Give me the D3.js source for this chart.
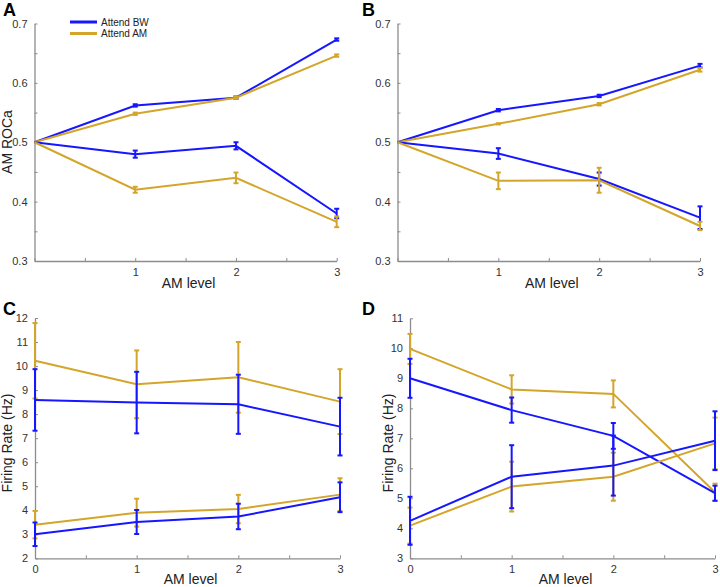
<!DOCTYPE html>
<html>
<head>
<meta charset="utf-8">
<script src="https://cdn.jsdelivr.net/npm/d3@7"></script>
<style>
  html, body { margin: 0; padding: 0; background: #fff; }
  text { font-family: Arial, "Liberation Sans", sans-serif; }
</style>
</head>
<body>
<svg id="chart" width="720" height="587"></svg>
<script>
// ---------- DATA ----------
const levels = [0, 1, 2, 3];
const seriesNames = ["Attend BW", "Attend AM"];
const panelLetters = ["A", "B", "C", "D"];
const rocTicks = [0.3, 0.4, 0.5, 0.6, 0.7];
const rateTicksC = [2, 3, 4, 5, 6, 7, 8, 9, 10, 11, 12];
const rateTicksD = [3, 4, 5, 6, 7, 8, 9, 10, 11];

// Panel A (AM ROCa)
const aBWUp = [0.5, 0.562, 0.575, 0.673];
const aBWUpErr = [0, 0.002, 0.002, 0.002];
const aAMUp = [0.5, 0.548, 0.575, 0.646];
const aAMUpErr = [0, 0.002, 0.002, 0.002];
const aBWDown = [0.5, 0.480, 0.494, 0.380];
const aBWDownErr = [0, 0.006, 0.006, 0.008];
const aAMDown = [0.5, 0.420, 0.440, 0.366];
const aAMDownErr = [0, 0.005, 0.009, 0.009];

// Panel B (AM ROCa)
const bBWUp = [0.5, 0.554, 0.578, 0.629];
const bBWUpErr = [0, 0.002, 0.002, 0.003];
const bAMUp = [0.5, 0.531, 0.564, 0.622];
const bAMUpErr = [0, 0.001, 0.002, 0.003];
const bBWDown = [0.5, 0.481, 0.438, 0.373];
const bBWDownErr = [0, 0.009, 0.011, 0.019];
const bAMDown = [0.5, 0.435, 0.436, 0.359];
const bAMDownErr = [0, 0.014, 0.021, 0.007];

// Panel C (Firing rate, Hz)
const cBWHigh = [8.59, 8.48, 8.41, 7.48];
const cBWHighErr = [1.28, 1.28, 1.23, 1.20];
const cAMHigh = [10.22, 9.24, 9.53, 8.52];
const cAMHighErr = [1.57, 1.41, 1.47, 1.35];
const cBWLow = [3.00, 3.51, 3.74, 4.54];
const cBWLowErr = [0.49, 0.50, 0.53, 0.62];
const cAMLow = [3.40, 3.90, 4.05, 4.65];
const cAMLowErr = [0.57, 0.58, 0.59, 0.68];

// Panel D (Firing rate, Hz)
const dBWHigh = [9.00, 7.94, 7.08, 5.17];
const dBWHighErr = [0.65, 0.42, 0.43, 0.25];
const dAMHigh = [9.98, 8.63, 8.48, 5.20];
const dAMHighErr = [0.50, 0.47, 0.45, 0.29];
const dBWLow = [4.25, 5.72, 6.09, 6.92];
const dBWLowErr = [0.80, 1.05, 1.00, 0.98];
const dAMLow = [4.09, 5.39, 5.72, 6.83];
const dAMLowErr = [0.60, 0.83, 0.80, 0.86];

// ---------- STYLE ----------
const BLUE = "#1616ff";
const GOLD = "#d3a52a";
const AXIS = "#8c8c8c";
const TXT = "#333";

const svg = d3.select("#chart");

const panels = [
  { letter: panelLetters[0], lx: 3, ly: 16, xr: [34.5, 336.7], yr: [261, 23.5], yd: [0.3, 0.7],
    yTicks: rocTicks, yMinor: [0.35, 0.45, 0.55, 0.65], fmt: d3.format(".1f"), showX0: false,
    ylabel: "AM ROCa", ylx: 7, ylcy: 142, xlabelY: 288,
    series: [
      [aBWUp, aBWUpErr, BLUE], [aAMUp, aAMUpErr, GOLD],
      [aBWDown, aBWDownErr, BLUE], [aAMDown, aAMDownErr, GOLD]] },
  { letter: panelLetters[1], lx: 362, ly: 16, xr: [397.5, 700], yr: [261, 23.5], yd: [0.3, 0.7],
    yTicks: rocTicks, yMinor: [0.35, 0.45, 0.55, 0.65], fmt: d3.format(".1f"), showX0: false,
    ylabel: null, xlabelY: 288,
    series: [
      [bBWUp, bBWUpErr, BLUE], [bAMUp, bAMUpErr, GOLD],
      [bBWDown, bBWDownErr, BLUE], [bAMDown, bAMDownErr, GOLD]] },
  { letter: panelLetters[2], lx: 3, ly: 315, xr: [35, 340], yr: [558.3, 318], yd: [2, 12],
    yTicks: rateTicksC, yMinor: [], fmt: d3.format("d"), showX0: true,
    ylabel: "Firing Rate (Hz)", ylx: 7, ylcy: 443, xlabelY: 584,
    series: [
      [cAMHigh, cAMHighErr, GOLD], [cBWHigh, cBWHighErr, BLUE],
      [cAMLow, cAMLowErr, GOLD], [cBWLow, cBWLowErr, BLUE]] },
  { letter: panelLetters[3], lx: 362, ly: 315, xr: [410, 715], yr: [558.3, 318.3], yd: [3, 11],
    yTicks: rateTicksD, yMinor: [], fmt: d3.format("d"), showX0: true,
    ylabel: "Firing Rate (Hz)", ylx: 388, ylcy: 443, xlabelY: 584,
    series: [
      [dAMHigh, dAMHighErr, GOLD], [dBWHigh, dBWHighErr, BLUE],
      [dAMLow, dAMLowErr, GOLD], [dBWLow, dBWLowErr, BLUE]] }
];

panels.forEach(p => {
  const g = svg.append("g");
  const x = d3.scaleLinear().domain([0, 3]).range(p.xr);
  const y = d3.scaleLinear().domain(p.yd).range(p.yr);

  // x axis
  const xTickVals = [0, 0.5, 1, 1.5, 2, 2.5, 3];
  const xa = g.append("g").attr("transform", `translate(0,${p.yr[0]})`)
    .call(d3.axisBottom(x).tickValues(xTickVals).tickSizeInner(-3).tickSizeOuter(0)
      .tickPadding(7)
      .tickFormat(d => (Number.isInteger(d) && (d > 0 || p.showX0)) ? d : ""));
  // y axis
  const yAll = p.yTicks.concat(p.yMinor);
  const ya = g.append("g").attr("transform", `translate(${p.xr[0]},0)`)
    .call(d3.axisLeft(y).tickValues(yAll).tickSizeInner(-3).tickSizeOuter(0)
      .tickPadding(7)
      .tickFormat(d => p.yTicks.includes(d) ? p.fmt(d) : ""));
  [xa, ya].forEach(a => {
    a.select(".domain").attr("stroke", AXIS).attr("stroke-width", 1.3);
    a.selectAll(".tick line").attr("stroke", AXIS).attr("stroke-width", 1);
    a.selectAll(".tick text").attr("fill", TXT).attr("font-size", 11)
      .attr("font-family", "Arial, 'Liberation Sans', sans-serif");
  });

  // labels
  g.append("text").attr("x", (p.xr[0] + p.xr[1]) / 2 + 3).attr("y", p.xlabelY)
    .attr("text-anchor", "middle").attr("font-size", 14).attr("fill", "#222").text("AM level");
  if (p.ylabel) {
    g.append("text").attr("transform", `translate(${p.ylx},${p.ylcy}) rotate(-90)`)
      .attr("text-anchor", "middle").attr("dy", "0.35em").attr("font-size", 14)
      .attr("fill", "#222").text(p.ylabel);
  }
  g.append("text").attr("x", p.lx).attr("y", p.ly).attr("font-size", 18)
    .attr("font-weight", "bold").attr("fill", "#000").text(p.letter);

  const line = d3.line().x((d, i) => x(levels[i])).y(d => y(d));
  p.series.forEach(([vals, errs, col]) => {
    g.append("path").datum(vals).attr("d", line).attr("fill", "none")
      .attr("stroke", col).attr("stroke-width", 2);
    const eb = g.append("g").attr("stroke", col).attr("stroke-width", 2);
    vals.forEach((v, i) => {
      if (!errs[i]) return;
      const cx = x(levels[i]);
      const t = y(v + errs[i]), b = y(v - errs[i]);
      eb.append("line").attr("x1", cx).attr("x2", cx).attr("y1", t).attr("y2", b);
      eb.append("line").attr("x1", cx - 2.5).attr("x2", cx + 2.5).attr("y1", t).attr("y2", t);
      eb.append("line").attr("x1", cx - 2.5).attr("x2", cx + 2.5).attr("y1", b).attr("y2", b);
    });
  });
});

// legend (panel A)
const leg = svg.append("g");
seriesNames.forEach((name, i) => {
  const yy = 22 + i * 11.5;
  leg.append("line").attr("x1", 70).attr("x2", 97).attr("y1", yy).attr("y2", yy)
    .attr("stroke", i === 0 ? BLUE : GOLD).attr("stroke-width", 3);
  leg.append("text").attr("x", 101).attr("y", yy).attr("dy", "0.35em")
    .attr("font-size", 10).attr("fill", "#222").text(name);
});
</script>
</body>
</html>
